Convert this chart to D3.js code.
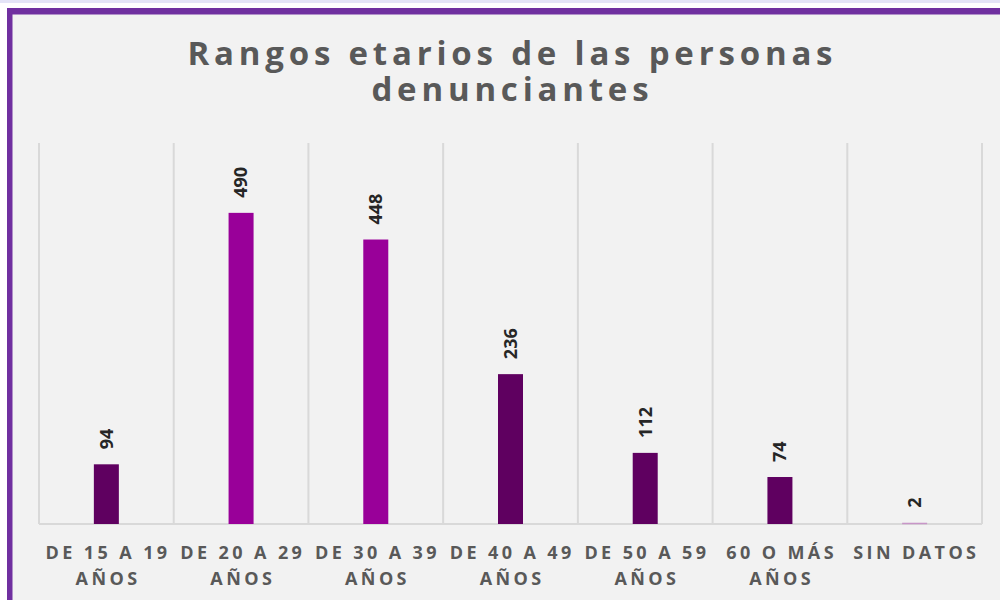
<!doctype html>
<html>
  <head>
    <script src="https://d3js.org/d3.v7.min.js"></script>
    <style>
      body { margin: 0; background: #ffffff; }
    </style>
  </head>
  <body>
    <script>
    // data
    var categories = ['DE 15 A 19|AÑOS', 'DE 20 A 29|AÑOS', 'DE 30 A 39|AÑOS', 'DE 40 A 49|AÑOS', 'DE 50 A 59|AÑOS', '60 O MÁS|AÑOS', 'SIN DATOS'];
    var values = [94, 490, 448, 236, 112, 74, 2];
    var barColors = ['#5f0060', '#990099', '#990099', '#5f0060', '#5f0060', '#5f0060', '#c896c8'];
    var titleLines = ['Rangos etarios de las personas', 'denunciantes'];

    var width = 1000;
    var height = 600;

    var margin = {top: 143, right: 18, bottom: 76, left: 39};
    var innerWidth = width - margin.left - margin.right;
    var innerHeight = height - margin.top - margin.bottom;

    var svg = d3.select('body')
      .append('svg')
      .attr('width', width)
      .attr('height', height);

    // top strip + frame
    svg.append('rect')
      .attr('x', 0).attr('y', 0)
      .attr('width', width).attr('height', 3)
      .attr('fill', '#e4e4f7');

    svg.append('rect')
      .attr('x', 7).attr('y', 8)
      .attr('width', width - 7).attr('height', height - 8)
      .attr('fill', '#7030a0');

    svg.append('rect')
      .attr('x', 12.5).attr('y', 14.5)
      .attr('width', width - 12.5).attr('height', height - 14.5)
      .attr('fill', '#f2f2f2');

    var g = svg.append('g')
      .attr('transform', 'translate(' + margin.left + ',' + margin.top + ')');

    var x = d3.scaleBand()
      .domain(categories)
      .range([0, innerWidth]);

    var y = d3.scaleLinear()
      .domain([0, 600])
      .range([innerHeight, 0]);

    // vertical gridlines between categories
    var edges = categories.map(function(c) { return x(c); }).concat([innerWidth]);
    g.selectAll('.vgrid')
      .data(edges)
      .enter()
      .append('line')
        .attr('class', 'vgrid')
        .attr('x1', function(d) { return d; })
        .attr('x2', function(d) { return d; })
        .attr('y1', 0)
        .attr('y2', innerHeight)
        .attr('stroke', '#d9d9d9')
        .attr('stroke-width', 2);

    g.append('line')
      .attr('x1', 0).attr('x2', innerWidth)
      .attr('y1', innerHeight).attr('y2', innerHeight)
      .attr('stroke', '#d9d9d9')
      .attr('stroke-width', 2);

    var barW = 25;

    g.selectAll('.bar')
      .data(values)
      .enter()
      .append('rect')
        .attr('class', 'bar')
        .attr('x', function(d, i) { return x(categories[i]) + x.bandwidth() / 2 - barW / 2; })
        .attr('y', function(d) { return y(d); })
        .attr('width', barW)
        .attr('height', function(d) { return Math.max(innerHeight - y(d), 1.5); })
        .attr('fill', function(d, i) { return barColors[i]; });

    // value labels, rotated
    g.selectAll('.val')
      .data(values)
      .enter()
      .append('text')
        .attr('class', 'val')
        .attr('transform', function(d, i) {
          var cx = x(categories[i]) + x.bandwidth() / 2;
          return 'translate(' + cx + ',' + (y(d) - 15) + ') rotate(-90)';
        })
        .attr('dy', '0.35em')
        .attr('text-anchor', 'start')
        .attr('font-family', 'Open Sans, sans-serif')
        .attr('font-weight', 'bold')
        .attr('font-size', '18px')
        .attr('fill', '#262626')
        .text(function(d) { return d; });

    // category labels
    var ls = 3.4;
    var cat = g.selectAll('.cat')
      .data(categories)
      .enter()
      .append('text')
        .attr('class', 'cat')
        .attr('x', function(d) { return x(d) + x.bandwidth() / 2 + ls / 2; })
        .attr('y', innerHeight + 35)
        .attr('text-anchor', 'middle')
        .attr('font-family', 'Open Sans, sans-serif')
        .attr('font-weight', 'bold')
        .attr('font-size', '18px')
        .attr('letter-spacing', ls + 'px')
        .attr('fill', '#595959');

    cat.selectAll('tspan')
      .data(function(d) { return d.split('|'); })
      .enter()
      .append('tspan')
        .attr('x', function() { var p = d3.select(this.parentNode).datum(); return x(p) + x.bandwidth() / 2 + ls / 2; })
        .attr('dy', function(d, i) { return i === 0 ? 0 : 26; })
        .text(function(d) { return d; });

    // title
    var tls = 4.8;
    svg.selectAll('.title')
      .data(titleLines)
      .enter()
      .append('text')
        .attr('class', 'title')
        .attr('x', 510 + tls / 2)
        .attr('y', function(d, i) { return 65 + i * 36; })
        .attr('text-anchor', 'middle')
        .attr('font-family', 'Open Sans, sans-serif')
        .attr('font-weight', 'bold')
        .attr('font-size', '33px')
        .attr('letter-spacing', tls + 'px')
        .attr('fill', '#595959')
        .text(function(d) { return d; });
    </script>
  </body>
</html>
